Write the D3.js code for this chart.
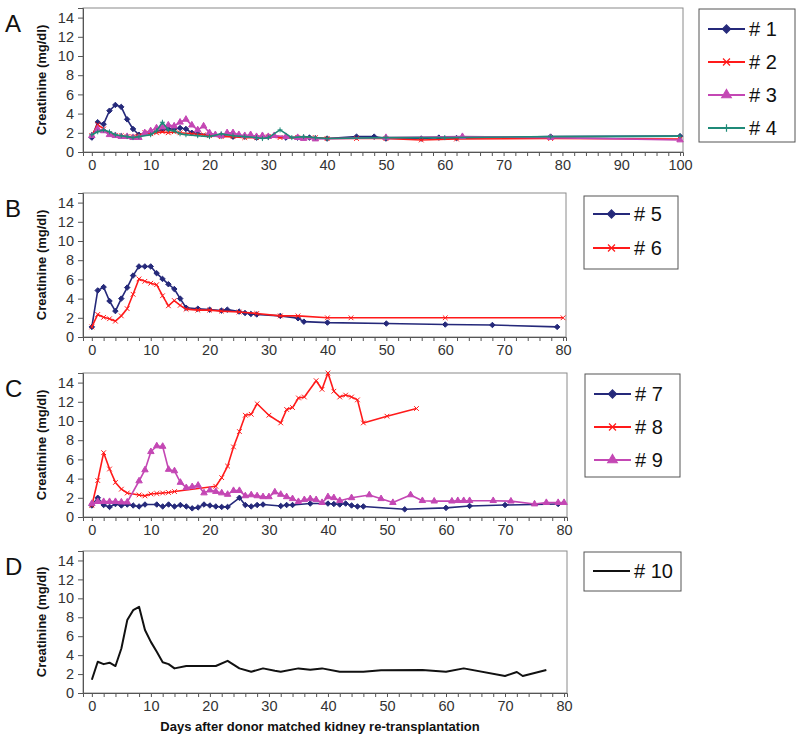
<!DOCTYPE html>
<html>
<head>
<meta charset="utf-8">
<script src="https://cdn.jsdelivr.net/npm/d3@7"></script>
<style>
  html, body { margin: 0; padding: 0; background: #fff; }
  svg { display: block; font-family: "Liberation Sans", Arial, sans-serif; }
</style>
</head>
<body>
<svg id="chart" width="800" height="738"></svg>
<script>
// ---------- DATA: [day, creatinine mg/dl] ----------
const p1 = [[0,1.5],[1,3.1],[2,2.9],[3,4.3],[4,4.9],[5,4.7],[6,3.4],[7,2.4],[8,1.8],[10,2.0],[12,2.3],[13,2.4],[14,2.4],[15,2.5],[16,2.4],[17,2.0],[18,1.9],[20,1.8],[22,1.7],[24,1.6],[26,1.6],[28,1.5],[30,1.6],[33,1.5],[35,1.5],[37,1.5],[40,1.4],[45,1.6],[48,1.6],[50,1.4],[56,1.4],[59,1.5],[62,1.45],[78,1.6],[100,1.65]];
const p2 = [[0,1.7],[1,2.85],[2,2.4],[3,1.9],[4,1.7],[5,1.7],[6,1.6],[7,1.6],[8,1.7],[9,2.0],[10,1.9],[11,2.0],[12,2.1],[13,2.0],[14,2.1],[15,2.0],[17,1.9],[19,1.8],[20,1.7],[22,1.6],[24,1.6],[26,1.5],[28,1.5],[30,1.6],[32,1.5],[35,1.5],[38,1.5],[40,1.4],[45,1.4],[50,1.4],[56,1.25],[62,1.35],[78,1.4],[100,1.35]];
const p3 = [[0,1.7],[1,2.4],[2,2.2],[3,1.8],[4,1.7],[5,1.6],[6,1.6],[7,1.5],[8,1.5],[9,2.0],[10,2.2],[11,2.5],[12,2.6],[13,2.8],[14,2.7],[15,3.1],[16,3.4],[17,2.8],[18,2.3],[19,2.7],[20,2.0],[21,1.8],[22,1.7],[23,2.0],[24,2.0],[25,1.8],[26,1.7],[27,1.8],[28,1.6],[29,1.7],[30,1.6],[31,1.7],[33,1.6],[35,1.5],[36,1.4],[38,1.35],[50,1.5],[63,1.6],[78,1.5],[100,1.25]];
const p4 = [[0,1.8],[1,2.1],[2,2.3],[3,2.1],[4,1.8],[5,1.7],[6,1.6],[7,1.5],[8,1.6],[10,1.8],[11,2.2],[12,3.1],[13,2.3],[14,2.2],[15,1.9],[16,1.8],[18,1.7],[20,1.6],[22,1.9],[24,1.7],[26,1.6],[28,1.5],[29,1.4],[30,1.5],[32,2.3],[34,1.5],[36,1.6],[38,1.5],[40,1.4],[50,1.5],[60,1.5],[78,1.6],[100,1.65]];

const p5 = [[0,1.05],[1,4.85],[2,5.2],[3,3.75],[4,2.7],[5,4.0],[6,5.15],[7,6.4],[8,7.35],[9,7.35],[10,7.35],[11,6.65],[12,6.05],[13,5.5],[14,5.0],[15,4.0],[16,3.05],[18,2.95],[20,2.85],[22,2.75],[23,2.85],[25,2.65],[26,2.5],[27,2.4],[28,2.35],[32,2.2],[35,1.95],[36,1.6],[40,1.5],[50,1.4],[60,1.3],[68,1.25],[79,1.05]];
const p6 = [[0,1.05],[1,2.35],[2,2.05],[3,1.9],[4,1.65],[5,2.2],[6,2.95],[7,4.45],[8,6.05],[9,5.8],[10,5.6],[11,5.45],[12,4.3],[13,3.25],[14,3.8],[15,3.3],[16,2.9],[18,2.8],[20,2.8],[22,2.7],[25,2.6],[28,2.45],[32,2.2],[35,2.2],[40,2.0],[44,2.0],[60,2.0],[80,2.0]];

const p7 = [[0,1.2],[1,2.0],[2,1.25],[3,1.05],[4,1.35],[5,1.2],[6,1.3],[7,1.2],[8,1.1],[9,1.3],[11,1.3],[12,1.1],[13,1.3],[14,1.1],[15,1.25],[16,1.1],[17,0.9],[18,1.0],[19,1.3],[20,1.2],[21,1.1],[22,1.05],[23,1.05],[25,2.0],[26,1.25],[27,1.1],[28,1.25],[29,1.3],[32,1.15],[33,1.25],[34,1.25],[37,1.4],[40,1.4],[41,1.35],[42,1.3],[43,1.4],[44,1.2],[45,1.1],[46,1.1],[53,0.8],[60,0.95],[64,1.15],[70,1.25],[79,1.35]];
const p8 = [[0,1.2],[1,3.8],[2,6.7],[3,5.0],[4,3.6],[5,2.9],[6,2.5],[8,2.3],[9,2.2],[10,2.4],[11,2.45],[12,2.5],[13,2.55],[14,2.65],[21,3.2],[22,4.1],[23,5.3],[24,7.3],[25,8.9],[26,10.6],[27,10.7],[28,11.8],[30,10.6],[32,9.8],[33,11.2],[34,11.4],[35,12.4],[36,12.5],[38,14.2],[39,13.3],[40,15.0],[41,13.1],[42,12.5],[43,12.7],[44,12.5],[45,12.2],[46,9.8],[50,10.5],[55,11.3]];
const p9 = [[0,1.4],[1,1.6],[2,1.6],[3,1.6],[4,1.6],[5,1.55],[6,1.55],[8,3.75],[9,4.9],[10,6.8],[11,7.4],[12,7.35],[13,4.95],[14,4.8],[15,3.6],[16,3.05],[17,3.15],[18,3.3],[19,2.5],[20,2.8],[21,2.65],[22,2.5],[23,2.35],[24,2.75],[25,2.75],[26,2.2],[27,2.3],[28,2.2],[29,2.1],[30,2.1],[31,2.6],[32,2.35],[33,2.1],[34,1.9],[35,1.6],[36,1.8],[37,1.9],[38,1.8],[39,1.5],[40,2.1],[41,2.0],[42,1.7],[44,2.0],[47,2.3],[49,1.9],[51,1.5],[54,2.3],[56,1.7],[58,1.65],[61,1.65],[62,1.7],[63,1.7],[64,1.7],[68,1.7],[71,1.65],[75,1.35],[77,1.5],[79,1.5],[80,1.5]];

const p10 = [[0,1.4],[1,3.3],[2,3.05],[3,3.2],[4,2.85],[5,4.7],[6,7.7],[7,8.75],[8,9.1],[9,6.65],[10,5.4],[11,4.35],[12,3.25],[13,3.05],[14,2.6],[16,2.85],[21,2.85],[23,3.4],[25,2.6],[27,2.25],[29,2.6],[31,2.35],[32,2.25],[35,2.6],[37,2.45],[39,2.6],[42,2.25],[46,2.25],[49,2.4],[56,2.43],[60,2.25],[63,2.6],[70,1.8],[72,2.22],[73,1.8],[77,2.43]];

const yTicks = [0,2,4,6,8,10,12,14];
const xTicksA = [0,10,20,30,40,50,60,70,80,90,100];
const xTicksBCD = [0,10,20,30,40,50,60,70,80];
const panelLetters = ["A","B","C","D"];
const yLabel = "Creatinine (mg/dl)";
const xLabel = "Days after donor matched kidney re-transplantation";

// ---------- STYLE ----------
const NAVY = "#25297a", RED = "#ff1a1a", MAG = "#c447b4", TEAL = "#1f8a78", BLACK = "#111";

const xMark = { draw(ctx, size) { const r = Math.sqrt(size) / 2; ctx.moveTo(-r,-r); ctx.lineTo(r,r); ctx.moveTo(r,-r); ctx.lineTo(-r,r); } };
const plusMark = { draw(ctx, size) { const r = Math.sqrt(size) / 2; ctx.moveTo(-r,0); ctx.lineTo(r,0); ctx.moveTo(0,-r); ctx.lineTo(0,r); } };
const diamond = { draw(ctx, size) { const r = Math.sqrt(size) / 2; ctx.moveTo(0,-r); ctx.lineTo(r,0); ctx.lineTo(0,r); ctx.lineTo(-r,0); ctx.closePath(); } };

const series = {
  A: [ {name:"# 1", data:p1, color:NAVY, sym:diamond, size:30, fill:true},
       {name:"# 2", data:p2, color:RED,  sym:xMark, size:22, fill:false},
       {name:"# 3", data:p3, color:MAG,  sym:d3.symbolTriangle, size:18, fill:true},
       {name:"# 4", data:p4, color:TEAL, sym:plusMark, size:25, fill:false} ],
  B: [ {name:"# 5", data:p5, color:NAVY, sym:diamond, size:30, fill:true},
       {name:"# 6", data:p6, color:RED,  sym:xMark, size:22, fill:false} ],
  C: [ {name:"# 7", data:p7, color:NAVY, sym:diamond, size:30, fill:true},
       {name:"# 8", data:p8, color:RED,  sym:xMark, size:22, fill:false},
       {name:"# 9", data:p9, color:MAG,  sym:d3.symbolTriangle, size:18, fill:true} ],
  D: [ {name:"# 10", data:p10, color:BLACK, sym:null} ]
};

const panels = [
  {key:"A", left:83, right:683, top:8,   bottom:152, xMax:100.5, ticks:xTicksA, legend:{x:699, y:9,   w:96, h:133, first:29,  step:33}},
  {key:"B", left:83, right:566, top:193, bottom:337, xMax:80.5,  ticks:xTicksBCD, legend:{x:584, y:196, w:94, h:73,  first:214, step:34}},
  {key:"C", left:83, right:567, top:373, bottom:517, xMax:80.5,  ticks:xTicksBCD, legend:{x:585, y:374, w:95, h:103, first:394, step:33}},
  {key:"D", left:83, right:567, top:551, bottom:693, xMax:80.5,  ticks:xTicksBCD, legend:{x:584, y:552, w:97, h:39,  first:571, step:33}}
];

const svg = d3.select("#chart");

panels.forEach((p, i) => {
  const x = d3.scaleLinear().domain([-1.5, p.xMax]).range([p.left, p.right]);
  const y = d3.scaleLinear().domain([0, 15]).range([p.bottom, p.top]);
  const g = svg.append("g");

  // frame
  g.append("rect").attr("x", p.left).attr("y", p.top)
    .attr("width", p.right - p.left).attr("height", p.bottom - p.top)
    .attr("fill", "none").attr("stroke", "#8a8a8a").attr("stroke-width", 1);

  // y axis
  const yAxis = d3.axisLeft(y).tickValues(yTicks).tickSize(5).tickPadding(4);
  const ya = g.append("g").attr("transform", `translate(${p.left},0)`).call(yAxis);
  ya.select(".domain").attr("stroke", "#555");
  ya.selectAll(".tick line").attr("stroke", "#555");
  ya.selectAll(".tick text").attr("font-size", 14.5).attr("fill", "#333")
    .attr("font-family", "Liberation Sans, Arial, sans-serif");

  // x axis: minor ticks every 2, labels every 10
  const minor = d3.range(0, Math.floor(p.xMax) + 1, 2);
  const xAxisMinor = d3.axisBottom(x).tickValues(minor).tickSize(4).tickFormat("");
  const xm = g.append("g").attr("transform", `translate(0,${p.bottom})`).call(xAxisMinor);
  xm.select(".domain").attr("stroke", "#555");
  xm.selectAll(".tick line").attr("stroke", "#555");
  const xAxis = d3.axisBottom(x).tickValues(p.ticks).tickSize(0).tickPadding(8);
  const xa = g.append("g").attr("transform", `translate(0,${p.bottom})`).call(xAxis);
  xa.select(".domain").remove();
  xa.selectAll(".tick text").attr("font-size", 14.5).attr("fill", "#333")
    .attr("font-family", "Liberation Sans, Arial, sans-serif");

  // y label
  g.append("text")
    .attr("transform", `translate(46,${(p.top + p.bottom) / 2}) rotate(-90)`)
    .attr("text-anchor", "middle").attr("font-size", 13).attr("font-weight", "bold")
    .attr("fill", "#111").text(yLabel);

  // panel letter
  g.append("text").attr("x", 5).attr("y", p.top + 24)
    .attr("font-size", 24).attr("fill", "#111").text(panelLetters[i]);

  // lines and markers
  const line = d3.line().x(d => x(d[0])).y(d => y(d[1]));
  series[p.key].forEach(s => {
    g.append("path").datum(s.data).attr("d", line)
      .attr("fill", "none").attr("stroke", s.color)
      .attr("stroke-width", s.sym ? 1.6 : 2).attr("stroke-linejoin", "round");
    if (s.sym) {
      const sym = d3.symbol().type(s.sym).size(s.size);
      g.selectAll(null).data(s.data).join("path")
        .attr("transform", d => `translate(${x(d[0])},${y(d[1])})`)
        .attr("d", sym)
        .attr("fill", s.fill ? s.color : "none")
        .attr("stroke", s.color).attr("stroke-width", 1);
    }
  });

  // legend
  const L = p.legend;
  const lg = g.append("g");
  lg.append("rect").attr("x", L.x).attr("y", L.y).attr("width", L.w).attr("height", L.h)
    .attr("fill", "#fff").attr("stroke", "#555").attr("stroke-width", 1);
  series[p.key].forEach((s, k) => {
    const cy = L.first + k * L.step;
    const x0 = L.x + 9, x1 = L.x + 46;
    lg.append("line").attr("x1", x0).attr("x2", x1).attr("y1", cy).attr("y2", cy)
      .attr("stroke", s.color).attr("stroke-width", 2.2);
    if (s.sym) {
      lg.append("path").attr("transform", `translate(${(x0 + x1) / 2},${cy})`)
        .attr("d", d3.symbol().type(s.sym).size(s.size * 2.2))
        .attr("fill", s.fill ? s.color : "none").attr("stroke", s.color).attr("stroke-width", 1.2);
    }
    lg.append("text").attr("x", x1 + 4).attr("y", cy + 7)
      .attr("font-size", 20).attr("fill", "#111").text(s.name);
  });
});

// x axis title
svg.append("text").attr("x", 320).attr("y", 731).attr("text-anchor", "middle")
  .attr("font-size", 13).attr("font-weight", "bold").attr("fill", "#111").text(xLabel);
</script>
</body>
</html>
